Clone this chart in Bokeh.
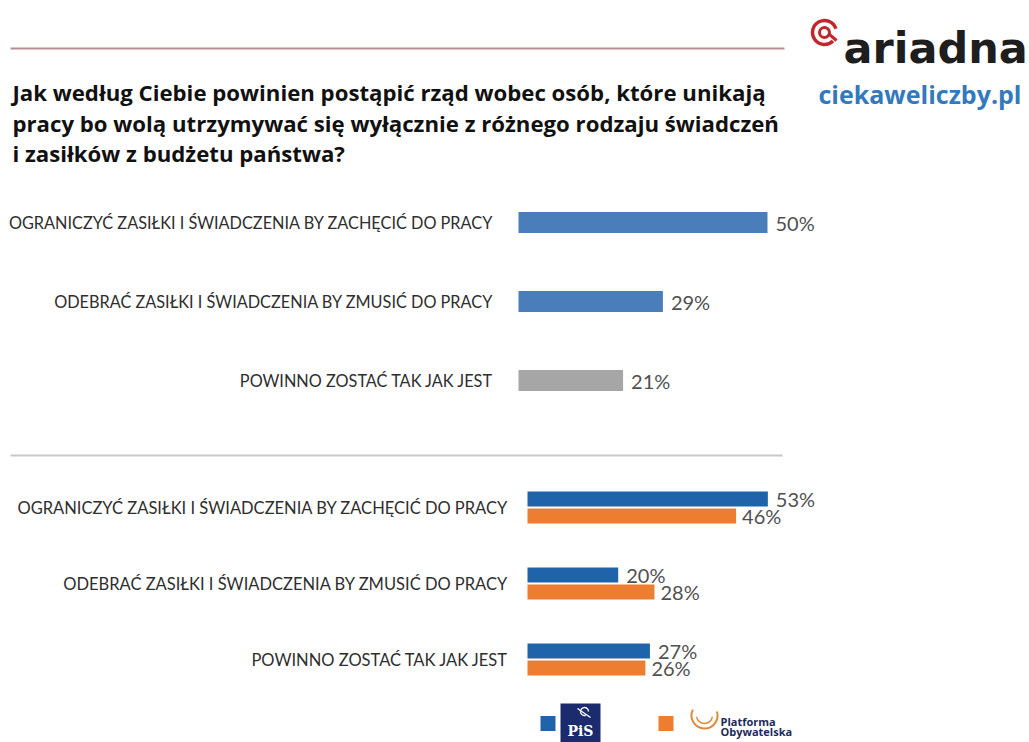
from bokeh.plotting import figure
from bokeh.models import Range1d, ColumnDataSource
from bokeh.core.properties import value
from bokeh.embed import file_html
from bokeh.resources import INLINE
import math

# ---------------- data ----------------
categories = [
    "OGRANICZYĆ ZASIŁKI I ŚWIADCZENIA BY ZACHĘCIĆ DO PRACY",
    "ODEBRAĆ ZASIŁKI I ŚWIADCZENIA BY ZMUSIĆ DO PRACY",
    "POWINNO ZOSTAĆ TAK JAK JEST",
]
overall = [50, 29, 21]
pis = [53, 20, 27]
po = [46, 28, 26]
title_lines = [
    "Jak według Ciebie powinien postąpić rząd wobec osób, które unikają",
    "pracy bo wolą utrzymywać się wyłącznie z różnego rodzaju świadczeń",
    "i zasiłków z budżetu państwa?",
]
series_names = ["PiS", "Platforma", "Obywatelska"]

# ---------------- layout ----------------
W, H = 1029, 742
TOP_START, TOP_SCALE = 518, 4.98
BOT_START, BOT_SCALE = 527, 4.535

p = figure(width=W, height=H, x_range=Range1d(0, W), y_range=Range1d(H, 0),
           output_backend="svg", toolbar_location=None, min_border=0,
           x_axis_type=None, y_axis_type=None, background_fill_color="white",
           border_fill_color="white")
p.grid.visible = False
p.outline_line_color = None
p.extra_x_ranges = {
    "top": Range1d(-TOP_START / TOP_SCALE, (W - TOP_START) / TOP_SCALE),
    "bot": Range1d(-BOT_START / BOT_SCALE, (W - BOT_START) / BOT_SCALE),
}

LBL_FONT = value("Lato")
BLUE_TOP = "#4a7ebb"
GREY = "#a6a6a6"
BLUE = "#1f64aa"
ORANGE = "#ed7d31"
LBL_COLOR = "#2e2e2e"
PCT_COLOR = "#505050"

# ---------------- header ----------------
p.segment(x0=[10], y0=[48], x1=[784], y1=[48], line_color="#b58f94", line_width=2)
for i, line in enumerate(title_lines):
    p.text(x=[12], y=[92 + 30.5 * i], text=[line], text_font=value("Open Sans"),
           text_font_style="bold", text_font_size="22.2px", text_color="#111111",
           text_baseline="alphabetic")

# ariadna logo
RED = "#c1272d"
p.arc(x=[824], y=[32], radius=12, radius_units="screen",
      start_angle=0.1 * math.pi, end_angle=1.75 * math.pi,
      line_color=RED, line_width=3.5)
p.arc(x=[824], y=[32], radius=5, radius_units="screen",
      start_angle=0.0, end_angle=2 * math.pi, line_color=RED, line_width=3)
p.segment(x0=[829], y0=[34], x1=[836], y1=[40], line_color=RED, line_width=3)
p.text(x=[843], y=[47], text=["ariadna"], text_font=value("DejaVu Sans"),
       text_font_style="bold", text_font_size="43px", text_color="#1e1e1e",
       text_baseline="alphabetic")
p.text(x=[818], y=[93], text=["ciekaweliczby.pl"], text_font=value("Open Sans"),
       text_font_style="bold", text_font_size="25px", text_color="#3279bd",
       text_baseline="alphabetic")

# ---------------- top panel ----------------
top_y = [222 + 79 * i for i in range(len(categories))]
top_src = ColumnDataSource(dict(
    y=top_y, v=overall, cat=categories,
    lbl=[f"{v}%" for v in overall],
    color=[BLUE_TOP, BLUE_TOP, GREY],
))
p.hbar(y="y", left=0, right="v", height=21, fill_color="color", line_color=None,
       source=top_src, x_range_name="top")
p.text(x=0, y="y", text="cat", source=top_src, x_range_name="top", x_offset=-25,
       text_align="right", text_baseline="middle", text_font=LBL_FONT,
       text_font_size="16.3px", text_color=LBL_COLOR)
p.text(x="v", y="y", text="lbl", source=top_src, x_range_name="top", x_offset=8,
       text_align="left", text_baseline="middle", text_font=LBL_FONT,
       text_font_size="20px", text_color=PCT_COLOR)

# separator
p.segment(x0=[10], y0=[455], x1=[782], y1=[455], line_color="#c8c8c8", line_width=2)

# ---------------- bottom panel ----------------
grp_y = [507 + 76 * i for i in range(len(categories))]
bot_src = ColumnDataSource(dict(
    y=grp_y, cat=categories,
    yb=[g - 8.5 for g in grp_y], yo=[g + 8.5 for g in grp_y],
    pis=pis, po=po,
    lp=[f"{v}%" for v in pis], lo=[f"{v}%" for v in po],
))
p.hbar(y="yb", left=0, right="pis", height=15, fill_color=BLUE, line_color=None,
       source=bot_src, x_range_name="bot")
p.hbar(y="yo", left=0, right="po", height=15, fill_color=ORANGE, line_color=None,
       source=bot_src, x_range_name="bot")
p.text(x=0, y="y", text="cat", source=bot_src, x_range_name="bot", x_offset=-19,
       text_align="right", text_baseline="middle", text_font=LBL_FONT,
       text_font_size="16.5px", text_color=LBL_COLOR)
p.text(x="pis", y="yb", text="lp", source=bot_src, x_range_name="bot", x_offset=8,
       text_align="left", text_baseline="middle", text_font=LBL_FONT,
       text_font_size="20px", text_color=PCT_COLOR)
p.text(x="po", y="yo", text="lo", source=bot_src, x_range_name="bot", x_offset=6,
       text_align="left", text_baseline="middle", text_font=LBL_FONT,
       text_font_size="20px", text_color=PCT_COLOR)

# ---------------- legend ----------------
p.rect(x=[547.5], y=[723], width=15, height=15, width_units="screen",
       height_units="screen", fill_color=BLUE, line_color=None)
p.quad(left=[560], right=[600], top=[703], bottom=[742], fill_color="#1c2a6e",
       line_color=None)
p.text(x=[580], y=[730], text=[series_names[0]], text_font=value("DejaVu Serif"),
       text_font_style="bold", text_font_size="14px", text_color="white",
       text_align="center", text_baseline="alphabetic")
p.arc(x=[584], y=[711], radius=4, radius_units="screen", start_angle=0,
      end_angle=1.6 * math.pi, line_color="white", line_width=1.3)
p.segment(x0=[577], y0=[708], x1=[590], y1=[717], line_color="white", line_width=1.3)

p.rect(x=[665.5], y=[723], width=15, height=15, width_units="screen",
       height_units="screen", fill_color=ORANGE, line_color=None)
p.arc(x=[704], y=[715], radius=13, radius_units="screen",
      start_angle=0.85 * math.pi, end_angle=2.1 * math.pi,
      line_color="#e08a35", line_width=2)
p.arc(x=[704], y=[715], radius=8, radius_units="screen",
      start_angle=1.05 * math.pi, end_angle=1.95 * math.pi,
      line_color="#e08a35", line_width=1.5)
p.text(x=[720], y=[721], text=[series_names[1]], text_font=value("Open Sans"),
       text_font_style="bold", text_font_size="11px", text_color="#1c2a5a",
       text_baseline="alphabetic")
p.text(x=[720], y=[731], text=[series_names[2]], text_font=value("Open Sans"),
       text_font_style="bold", text_font_size="11px", text_color="#1c2a5a",
       text_baseline="alphabetic")

open("out.html", "w").write(file_html(p, INLINE))
